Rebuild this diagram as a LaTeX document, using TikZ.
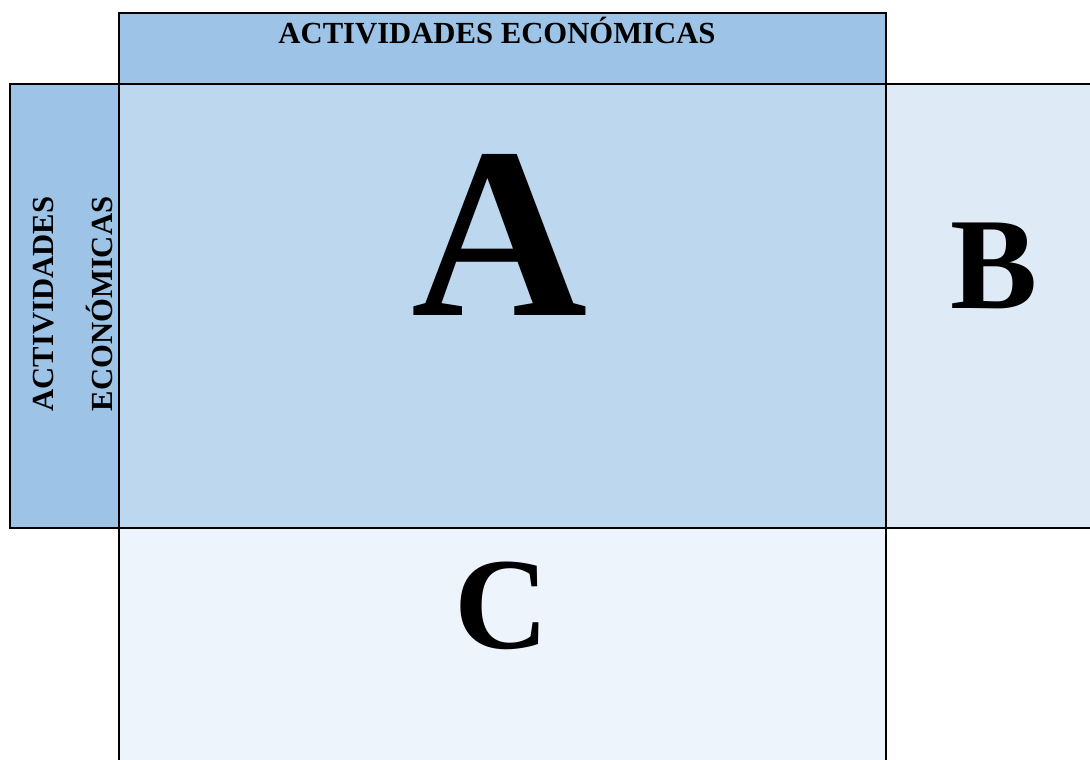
\documentclass[tikz,border=0pt]{standalone}
\usepackage{fontspec}
\setmainfont{Liberation Serif}
\definecolor{headblue}{HTML}{9DC3E6}
\definecolor{ablue}{HTML}{BDD7EE}
\definecolor{bblue}{HTML}{DEEBF7}
\definecolor{cblue}{HTML}{EEF4FB}
\begin{document}
\begin{tikzpicture}[x=0.75pt, y=-0.75pt, box/.style={draw=black, line width=1.5pt}, every node/.style={font=\bfseries, inner sep=0pt}]
            \useasboundingbox (0,0) rectangle (1090,760);
            \clip (0,0) rectangle (1090,760);
            \def \L {10}
            \def \X {119}
            \def \R {886}
            \def \T {84}
            \def \S {528}
            % cells
            \draw[box, fill=bblue] (\R, \T) rectangle (1100, \S);
            \draw[box, fill=cblue] (\X, \S) rectangle (\R, 775);
            \draw[box, fill=ablue] (\X, \T) rectangle (\R, \S);
            \draw[box, fill=headblue] (\X, 13) rectangle (\R, \T);
            \draw[box, fill=headblue] (\L, \T) rectangle (\X, \S);
            % labels
            \node[anchor=base, font=\bfseries\fontsize{23}{28}\selectfont] (head) at (497, 43) {ACTIVIDADES ECONÓMICAS};
            \node[anchor=base, rotate=90, font=\bfseries\fontsize{23}{28}\selectfont] (side1) at (53, 304) {ACTIVIDADES};
            \node[anchor=base, rotate=90, font=\bfseries\fontsize{23}{28}\selectfont] (side2) at (112, 304) {ECONÓMICAS};
            \node[anchor=base, font=\bfseries\fontsize{183}{190}\selectfont] (a) at (500, 315) {A};
            \node[anchor=base, font=\bfseries\fontsize{98}{110}\selectfont] (b) at (994, 308) {B};
            \node[anchor=base, font=\bfseries\fontsize{98}{110}\selectfont] (c) at (502, 648) {C};
        \end{tikzpicture}
\end{document}
